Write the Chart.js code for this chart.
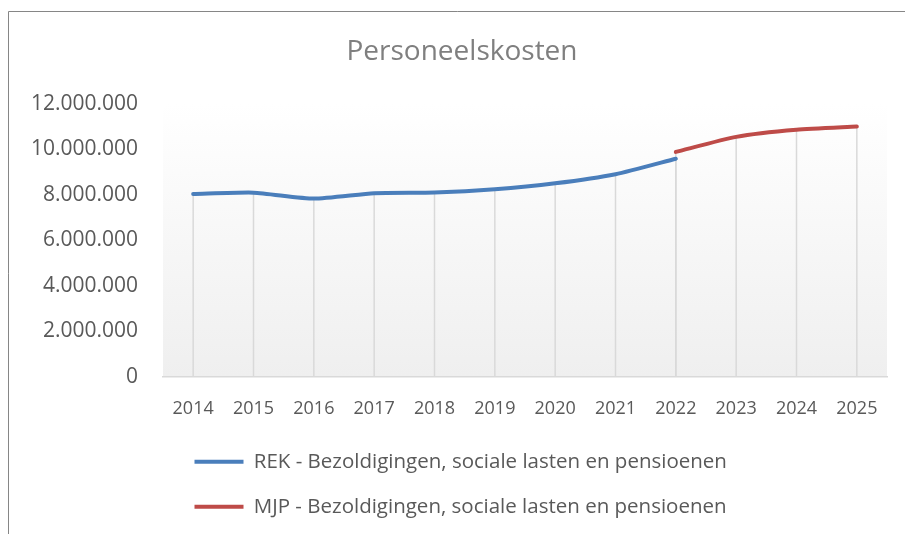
<!DOCTYPE html>
<html>
<head>
<meta charset="utf-8">
<script src="https://cdn.jsdelivr.net/npm/chart.js@4.4.1/dist/chart.umd.min.js"></script>
<style>
  html, body { margin: 0; padding: 0; background: #fff; }
  #wrap { width: 905px; height: 534px; }
</style>
</head>
<body>
<div id="wrap"><canvas id="chart" width="905" height="534"></canvas></div>
<script>
// Data
const years = ['2014', '2015', '2016', '2017', '2018', '2019', '2020', '2021', '2022', '2023', '2024', '2025'];
const rekValues = [8030000, 8090000, 7830000, 8070000, 8100000, 8240000, 8500000, 8900000, 9580000, null, null, null];
const mjpValues = [null, null, null, null, null, null, null, null, 9880000, 10540000, 10850000, 10990000];
const yTicks = [0, 2000000, 4000000, 6000000, 8000000, 10000000, 12000000];

const textColor = '#595959';
const fontFamily = '"Open Sans", Lato, sans-serif';

// dots as thousands separator
const fmt = v => String(v).replace(/\B(?=(\d{3})+(?!\d))/g, '.');

// outer chart frame, plot gradient, drop lines
const framePlugin = {
  id: 'frame',
  beforeDraw(chart) {
    const { ctx, chartArea: a } = chart;
    // legend and title are not centred on the canvas in the original
    chart.legend.left = 170;
    chart.titleBlock.left = 37;

    ctx.save();
    ctx.strokeStyle = '#868686';
    ctx.lineWidth = 1;
    ctx.beginPath();
    ctx.moveTo(8.5, 600);
    ctx.lineTo(8.5, 11.5);
    ctx.lineTo(1000, 11.5);
    ctx.stroke();

    const g = ctx.createLinearGradient(0, a.top, 0, a.bottom);
    g.addColorStop(0, '#ffffff');
    g.addColorStop(1, '#efefef');
    ctx.fillStyle = g;
    ctx.fillRect(a.left, a.top, a.right - a.left, a.bottom - a.top);
    ctx.restore();
  },
  beforeDatasetsDraw(chart) {
    const { ctx, scales } = chart;
    const x = scales.x, y = scales.y;
    ctx.save();
    ctx.strokeStyle = '#d9d9d9';
    ctx.lineWidth = 1.5;
    chart.data.datasets.forEach(ds => {
      ds.data.forEach((v, i) => {
        if (v === null) return;
        const px = x.getPixelForValue(i);
        ctx.beginPath();
        ctx.moveTo(px, y.getPixelForValue(v));
        ctx.lineTo(px, y.getPixelForValue(0));
        ctx.stroke();
      });
    });
    ctx.restore();
  }
};

new Chart(document.getElementById('chart'), {
  type: 'line',
  data: {
    labels: years,
    datasets: [
      {
        label: 'REK - Bezoldigingen, sociale lasten en pensioenen',
        data: rekValues,
        borderColor: '#4a7ebb',
        backgroundColor: '#4a7ebb',
        borderWidth: 4,
        borderCapStyle: 'round',
        pointRadius: 0,
        pointStyle: 'line',
        tension: 0.2
      },
      {
        label: 'MJP - Bezoldigingen, sociale lasten en pensioenen',
        data: mjpValues,
        borderColor: '#be4b48',
        backgroundColor: '#be4b48',
        borderWidth: 4,
        borderCapStyle: 'round',
        pointRadius: 0,
        pointStyle: 'line',
        tension: 0.2
      }
    ]
  },
  options: {
    responsive: false,
    animation: false,
    layout: { padding: { left: 0, right: 18, top: 0, bottom: 7 } },
    plugins: {
      title: {
        display: true,
        text: 'Personeelskosten',
        color: '#7f7f7f',
        font: { family: fontFamily, size: 28, weight: 'normal' },
        padding: { top: 35, bottom: 35 }
      },
      legend: {
        position: 'bottom',
        align: 'start',
        labels: {
          usePointStyle: true,
          pointStyleWidth: 49,
          color: textColor,
          font: { family: fontFamily, size: 20.5 },
          padding: 24.5
        }
      },
      tooltip: { enabled: false }
    },
    scales: {
      x: {
        offset: true,
        afterFit: s => { s.height = 50; },
        grid: { display: false, drawTicks: false },
        border: { display: true, color: '#d9d9d9', width: 1.5 },
        ticks: { color: textColor, font: { family: fontFamily, size: 18 }, padding: 21, maxRotation: 0 }
      },
      y: {
        min: 0,
        max: 12000000,
        afterBuildTicks: s => { s.ticks = yTicks.map(v => ({ value: v })); },
        afterFit: s => { s.width = 163; },
        grid: { display: false, drawTicks: false },
        border: { display: false },
        ticks: { color: textColor, font: { family: fontFamily, size: 21 }, padding: 25, callback: v => fmt(v) }
      }
    }
  },
  plugins: [framePlugin]
});
</script>
</body>
</html>
